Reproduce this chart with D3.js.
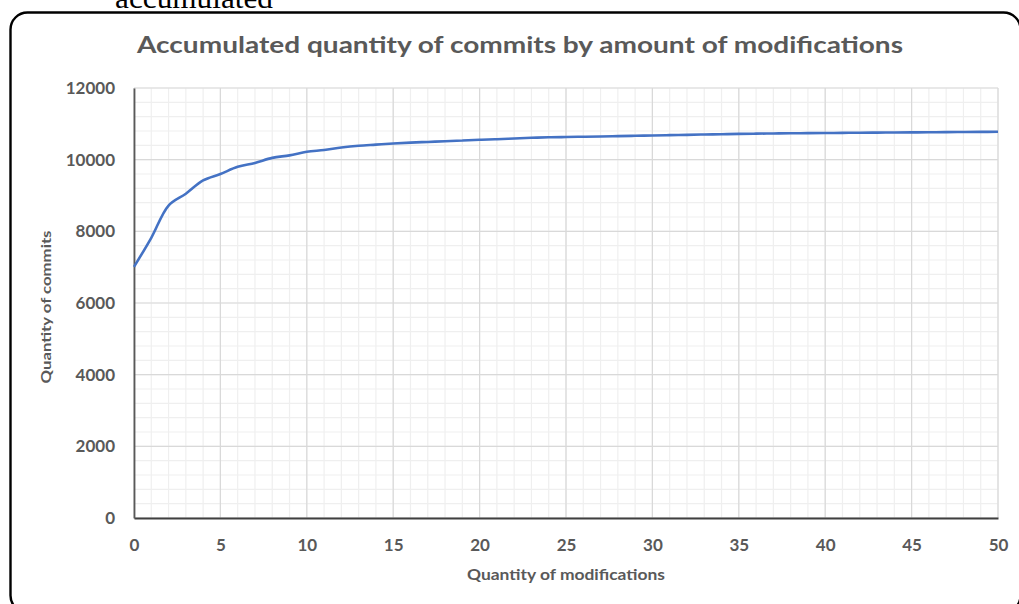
<!DOCTYPE html>
<html>
<head>
<meta charset="utf-8">
<script src="https://cdn.jsdelivr.net/npm/d3@7"></script>
<style>
  html, body { margin: 0; padding: 0; background: #fff; }
  svg { display: block; }
</style>
</head>
<body>
<svg id="chart" width="1019" height="604"></svg>
<script>
// Accumulated number of commits, by number of modifications (0..50)
const modifications = d3.range(0, 51);
const commits = [
  7010, 7820, 8720, 9050, 9420, 9600, 9800, 9910, 10050, 10120,
  10220, 10270, 10340, 10390, 10420, 10450, 10475, 10495, 10515, 10535,
  10555, 10570, 10590, 10610, 10625, 10632, 10640, 10648, 10657, 10666,
  10675, 10684, 10693, 10702, 10711, 10720, 10726, 10731, 10736, 10740,
  10744, 10748, 10752, 10755, 10759, 10762, 10765, 10769, 10772, 10775,
  10778
];
const xTicks = [0, 5, 10, 15, 20, 25, 30, 35, 40, 45, 50];
const yTicks = [0, 2000, 4000, 6000, 8000, 10000, 12000];

const svg = d3.select("#chart");
const textGrey = "#595959";
const labelFont = "Lato, 'Open Sans', sans-serif";

// Rounded frame around the figure
svg.append("rect")
  .attr("x", 10.5).attr("y", 12.5)
  .attr("width", 1010).attr("height", 600)
  .attr("rx", 17).attr("ry", 17)
  .attr("fill", "none")
  .attr("stroke", "#000")
  .attr("stroke-width", 2.4);

// Caption word above the frame
svg.append("text")
  .attr("x", 115).attr("y", 8)
  .attr("textLength", 158)
  .attr("lengthAdjust", "spacingAndGlyphs")
  .attr("font-family", "'Liberation Serif', 'DejaVu Serif', serif")
  .attr("font-size", 30)
  .attr("fill", "#000")
  .text("accumulated");

const x = d3.scaleLinear().domain([0, 50]).range([134, 998]);
const y = d3.scaleLinear().domain([0, 12000]).range([518, 88]);

// Minor grid
const grid = svg.append("g");
grid.selectAll(".vminor").data(d3.range(0, 51)).join("line")
  .attr("x1", d => x(d)).attr("x2", d => x(d))
  .attr("y1", y(12000)).attr("y2", y(0))
  .attr("stroke", "#efefef").attr("stroke-width", 1.2);
grid.selectAll(".hminor").data(d3.range(0, 12001, 400)).join("line")
  .attr("x1", x(0)).attr("x2", x(50))
  .attr("y1", d => y(d)).attr("y2", d => y(d))
  .attr("stroke", "#efefef").attr("stroke-width", 1.2);
// Major grid
grid.selectAll(".vmajor").data(xTicks).join("line")
  .attr("x1", d => x(d)).attr("x2", d => x(d))
  .attr("y1", y(12000)).attr("y2", y(0))
  .attr("stroke", "#d9d9d9").attr("stroke-width", 1.2);
grid.selectAll(".hmajor").data(yTicks).join("line")
  .attr("x1", x(0)).attr("x2", x(50))
  .attr("y1", d => y(d)).attr("y2", d => y(d))
  .attr("stroke", "#d9d9d9").attr("stroke-width", 1.2);

// Axes
const xAxis = svg.append("g")
  .attr("transform", `translate(0,${y(0)})`)
  .call(d3.axisBottom(x).tickValues(xTicks).tickSize(0).tickPadding(21));
const yAxis = svg.append("g")
  .attr("transform", `translate(${x(0)},0)`)
  .call(d3.axisLeft(y).tickValues(yTicks).tickSize(0).tickPadding(19).tickFormat(d3.format("d")));

xAxis.select(".domain").attr("stroke", "#404040").attr("stroke-width", 2);
yAxis.select(".domain").attr("stroke", "#595959").attr("stroke-width", 1.8);
[xAxis, yAxis].forEach(a => a.selectAll("text")
  .attr("font-family", labelFont)
  .attr("font-size", 17)
  .attr("font-weight", 700)
  .attr("fill", textGrey));

// Cumulative curve
const line = d3.line()
  .x((d, i) => x(modifications[i]))
  .y(d => y(d))
  .curve(d3.curveCatmullRom.alpha(0.5));
svg.append("path")
  .datum(commits)
  .attr("d", line)
  .attr("fill", "none")
  .attr("stroke", "#4472c4")
  .attr("stroke-width", 2.6)
  .attr("stroke-linejoin", "round");

// Titles
svg.append("text")
  .attr("x", 520).attr("y", 53)
  .attr("text-anchor", "middle")
  .attr("textLength", 766)
  .attr("lengthAdjust", "spacingAndGlyphs")
  .attr("font-family", labelFont)
  .attr("font-size", 23)
  .attr("font-weight", 700)
  .attr("fill", textGrey)
  .text("Accumulated quantity of commits by amount of modifications");

svg.append("text")
  .attr("x", 566).attr("y", 580)
  .attr("text-anchor", "middle")
  .attr("textLength", 198)
  .attr("lengthAdjust", "spacingAndGlyphs")
  .attr("font-family", labelFont)
  .attr("font-size", 14.5)
  .attr("font-weight", 700)
  .attr("fill", textGrey)
  .text("Quantity of modifications");

svg.append("text")
  .attr("transform", "translate(51,307) rotate(-90)")
  .attr("text-anchor", "middle")
  .attr("textLength", 153)
  .attr("lengthAdjust", "spacingAndGlyphs")
  .attr("font-family", labelFont)
  .attr("font-size", 14)
  .attr("font-weight", 700)
  .attr("fill", textGrey)
  .text("Quantity of commits");
</script>
</body>
</html>
